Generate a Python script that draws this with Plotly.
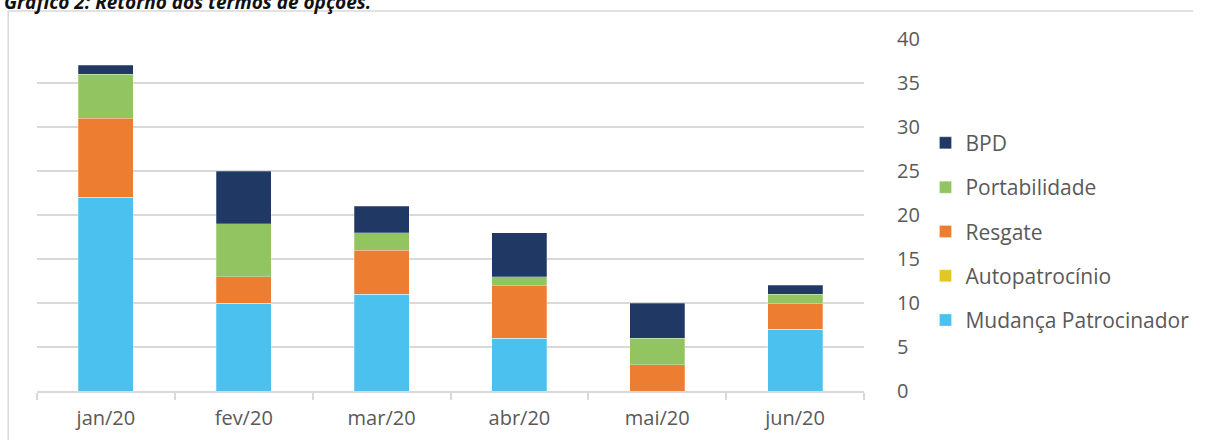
import plotly.graph_objects as go

months = ["jan/20", "fev/20", "mar/20", "abr/20", "mai/20", "jun/20"]

mudanca_patrocinador = [22, 10, 11, 6, 0, 7]
autopatrocinio = [0, 0, 0, 0, 0, 0]
resgate = [9, 3, 5, 6, 3, 3]
portabilidade = [5, 6, 2, 1, 3, 1]
bpd = [1, 6, 3, 5, 4, 1]

# bottom of the stack first; legend lists them top-down (BPD first)
series = [
    ("Mudança Patrocinador", mudanca_patrocinador, "#4AC1EE"),
    ("Autopatrocínio", autopatrocinio, "#E3C824"),
    ("Resgate", resgate, "#ED7D31"),
    ("Portabilidade", portabilidade, "#93C462"),
    ("BPD", bpd, "#203864"),
]

text_color = "#595959"
grid_color = "#D9D9D9"

fig = go.Figure()
for rank, (name, values, color) in enumerate(series):
    fig.add_trace(
        go.Bar(
            x=months,
            y=values,
            name=name,
            legendgroup=name,
            legendrank=len(series) - rank,
            marker=dict(color=color, line=dict(color="rgba(255,255,255,0.5)", width=0.5)),
        )
    )

# plot area spans pixels x 37..871, y 39..391
pw, ph = 834, 352
px = lambda p: (p - 37) / pw
py = lambda p: (391 - p) / ph

fig.update_layout(
    width=1206,
    height=443,
    barmode="stack",
    bargap=0.6,
    plot_bgcolor="white",
    paper_bgcolor="white",
    margin=dict(l=37, r=335, t=39, b=52),
    font=dict(family="Open Sans", size=20, color=text_color),
    showlegend=True,
    legend=dict(
        x=px(933),
        y=py(231.7),
        xanchor="left",
        yanchor="middle",
        traceorder="grouped",
        tracegroupgap=14,
        itemwidth=30,
        font=dict(size=21, color=text_color),
        bgcolor="rgba(0,0,0,0)",
    ),
    xaxis=dict(
        type="category",
        showgrid=False,
        showline=True,
        linecolor=grid_color,
        linewidth=1.5,
        ticks="outside",
        tickson="boundaries",
        ticklen=7,
        tickcolor=grid_color,
        tickwidth=1.5,
        ticklabelstandoff=8,
        tickfont=dict(size=20, color=text_color),
        fixedrange=True,
    ),
    yaxis=dict(
        side="right",
        range=[0, 40],
        dtick=5,
        showgrid=True,
        gridcolor=grid_color,
        gridwidth=1.5,
        zeroline=False,
        showline=False,
        ticks="",
        ticklabelstandoff=32,
        tickfont=dict(size=20, color=text_color),
        fixedrange=True,
    ),
    shapes=[
        dict(type="line", xref="paper", yref="paper", x0=px(8), x1=px(1203), y0=py(11), y1=py(11),
             line=dict(color=grid_color, width=1.5)),
        dict(type="line", xref="paper", yref="paper", x0=px(8), x1=px(8), y0=py(11), y1=py(440),
             line=dict(color=grid_color, width=1.5)),
    ],
    annotations=[
        dict(
            text="<b><i>Gráfico 2: Retorno dos termos de opções.</i></b>",
            xref="paper",
            yref="paper",
            x=px(2),
            y=py(17),
            xanchor="left",
            yanchor="bottom",
            showarrow=False,
            font=dict(family="Open Sans", size=19, color="#111111"),
        )
    ],
)

fig.write_html(
    "out.html",
    config={"displayModeBar": False},
    post_script="document.body.style.margin = '0';",
)
